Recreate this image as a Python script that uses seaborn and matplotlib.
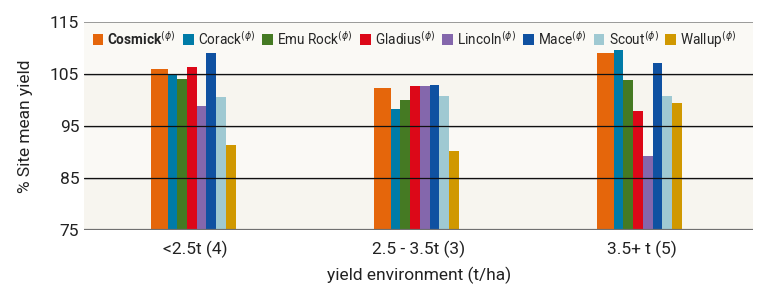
import pandas as pd
import seaborn as sns
import matplotlib.pyplot as plt

# Values
environments = ["<2.5t (4)", "2.5 - 3.5t (3)", "3.5+ t (5)"]
varieties = ["Cosmick", "Corack", "Emu Rock", "Gladius", "Lincoln", "Mace", "Scout", "Wallup"]
cosmick = [106.0, 102.2, 109.1]
corack = [104.8, 98.3, 109.6]
emu_rock = [104.1, 99.9, 103.9]
gladius = [106.4, 102.6, 97.8]
lincoln = [98.9, 102.6, 89.2]
mace = [109.1, 102.9, 107.0]
scout = [100.5, 100.8, 100.8]
wallup = [91.3, 90.1, 99.3]

colors = ["#e5660b", "#007ba7", "#457a23", "#dc0818", "#8467ac", "#0f51a1", "#9fc9d2", "#d09800"]

series = [cosmick, corack, emu_rock, gladius, lincoln, mace, scout, wallup]
rows = []
for name, vals in zip(varieties, series):
    for env, v in zip(environments, vals):
        rows.append({"env": env, "variety": name, "yield": v})
df = pd.DataFrame(rows)

sns.set_style("white")
plt.rcParams["font.family"] = ["Roboto", "DejaVu Sans"]

fig, ax = plt.subplots(figsize=(7.57, 2.91), dpi=100)
fig.subplots_adjust(left=0.111, right=0.995, top=0.925, bottom=0.21)

# faint alternating bands
for lo, hi, c in [(75, 85, "#f7f5ef"), (85, 95, "#faf9f5"), (95, 105, "#f7f5ef"), (105, 115, "#faf9f5")]:
    ax.axhspan(lo, hi, color=c, zorder=0, lw=0)

sns.barplot(data=df, x="env", y="yield", hue="variety", hue_order=varieties,
            palette=colors, width=0.38, saturation=1, ax=ax, zorder=2,
            linewidth=0, legend=True)

# Cosmick bar is drawn wider than the rest
rel = [1.7, 1, 1, 1, 1, 1, 1, 1]
for i in range(len(environments)):
    patches = [ax.containers[k][i] for k in range(len(varieties))]
    left = patches[0].get_x() - 0.01
    total = sum(p.get_width() for p in patches)
    unit = total / sum(rel)
    x = left
    for p, r in zip(patches, rel):
        p.set_x(x)
        p.set_width(unit * r)
        x += unit * r

ax.set_ylim(75, 115)
ax.set_yticks([75, 85, 95, 105, 115])
ax.set_xlim(-0.5, 2.5)
for y in [85, 95, 105]:
    ax.axhline(y - 0.2, color="#c8c8c8", lw=0.6, zorder=1)
    ax.axhline(y, color="#111111", lw=0.9, zorder=3)
ax.axhline(115, color="#8a8a8a", lw=1.2, zorder=3)
ax.axhline(75, color="#707070", lw=1.6, zorder=3)
for s in ax.spines.values():
    s.set_visible(False)

ax.tick_params(axis="both", length=0, labelsize=12.5, colors="#222222")
ax.tick_params(axis="x", pad=8)
ax.set_ylabel("% Site mean yield", fontsize=12.5, color="#222222", labelpad=12)
ax.set_xlabel("yield environment (t/ha)", fontsize=12.5, color="#222222", labelpad=6)

handles, labels = ax.get_legend_handles_labels()
labels = [l + r"$^{(\phi)}$" for l in labels]
leg = ax.legend(handles, labels, ncol=8, loc="upper center", bbox_to_anchor=(0.494, 1.0),
                frameon=False, fontsize=9.8, handlelength=0.8, handleheight=0.8,
                handletextpad=0.3, columnspacing=0.5, borderaxespad=0.1)
leg.get_texts()[0].set_fontweight("bold")

fig.savefig("out.png", dpi=100, facecolor="white")
